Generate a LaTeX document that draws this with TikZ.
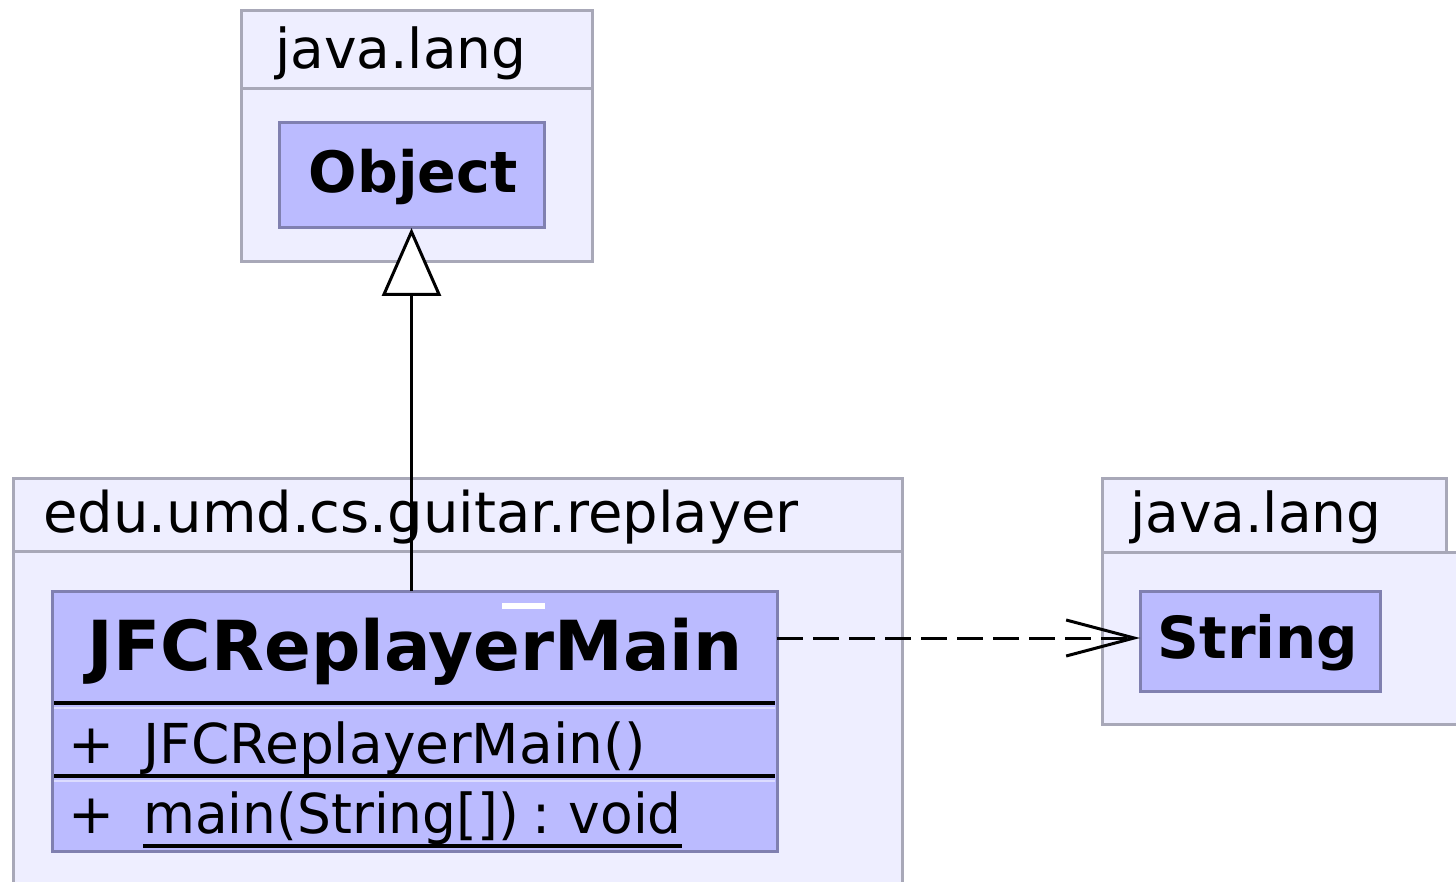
\documentclass[tikz,border=0pt]{standalone}
\usepackage{fontspec}
\setmainfont{DejaVu Sans}
\usetikzlibrary{arrows.meta}
\definecolor{pkgfill}{HTML}{EEEEFF}
\definecolor{pkgline}{HTML}{A8A8B8}
\definecolor{clsfill}{HTML}{BBBBFF}
\definecolor{clsline}{HTML}{8080B0}
\definecolor{clslight}{HTML}{DCDCFF}
\begin{document}
\begin{tikzpicture}[x=1pt,y=-1pt,
  pkg/.style={draw=pkgline, fill=pkgfill, line width=3pt, inner sep=0pt, outer sep=0pt, anchor=north west},
  comp/.style={fill=clsfill, inner sep=0pt, outer sep=0pt, anchor=north west, minimum width=725pt},
  cls/.style={draw=clsline, fill=clsfill, line width=3pt, inner sep=0pt, outer sep=0pt, anchor=north west},
  frame/.style={draw=clsline, line width=3pt},
  divider/.style={draw=black, line width=4pt},
  lightdiv/.style={draw=clslight, line width=2pt},
  lbl/.style={anchor=base west, inner sep=0pt, font=\fontsize{55}{60}\selectfont},
  blbl/.style={anchor=base, inner sep=0pt, font=\fontsize{#1}{#1}\selectfont\bfseries},
  uline/.style={draw=black, line width=4pt},
  gen/.style={draw=black, line width=3.5pt, -{Triangle[fill=white, length=68pt, width=59pt, line width=3pt]}},
  dep/.style={draw=black, line width=3pt, dash pattern=on 26pt off 10pt, -{Straight Barb[length=68pt, width=36pt, line width=3pt]}}
]
\useasboundingbox (0,0) rectangle (1456,882);
% package java.lang (top)
\node[pkg, minimum width=351pt, minimum height=78pt] (tabA) at (241,11) {};
\node[pkg, minimum width=351pt, minimum height=173pt] (bodyA) at (241,89) {};
\node[lbl] (tA) at (275,69) {java.lang};
% package edu.umd.cs.guitar.replayer
\node[pkg, minimum width=889pt, minimum height=73pt] (tabB) at (13,478) {};
\node[pkg, minimum width=889pt, minimum height=380pt] (bodyB) at (13,551) {};
\node[lbl, font=\fontsize{56}{60}\selectfont] (tB) at (43,532) {edu.umd.cs.guitar.replayer};
% package java.lang (right)
\node[pkg, minimum width=344pt, minimum height=74pt] (tabC) at (1102,478) {};
\node[pkg, minimum width=420pt, minimum height=172pt] (bodyC) at (1102,552) {};
\node[lbl] (tC) at (1130,532) {java.lang};
% class Object
\node[cls, minimum width=265pt, minimum height=105pt] (obj) at (279,123) {};
\node[blbl=57] (objT) at (413,193) {Object};
% class String
\node[cls, minimum width=240pt, minimum height=100pt] (str) at (1140,591) {};
\node[blbl=58] (strT) at (1258,658) {String};
% class JFCReplayerMain
\node[comp, minimum height=113pt] (jname) at (52,591) {};
\node[comp, minimum height=73pt] (jattr) at (52,704) {};
\node[comp, minimum height=74pt] (jops) at (52,777) {};
\draw[frame] (jname.north west) rectangle (jops.south east);
\draw[divider] ([xshift=2pt,yshift=1pt]jname.south west) -- ([xshift=-2pt,yshift=1pt]jname.south east);
\draw[lightdiv] ([xshift=2pt,yshift=-4pt]jname.south west) -- ([xshift=-2pt,yshift=-4pt]jname.south east);
\draw[divider] ([xshift=2pt,yshift=1pt]jattr.south west) -- ([xshift=-2pt,yshift=1pt]jattr.south east);
\draw[lightdiv] ([xshift=2pt,yshift=-4pt]jattr.south west) -- ([xshift=-2pt,yshift=-4pt]jattr.south east);
\fill[white] (502,603) rectangle (545,609);
\node[blbl=69] (jT) at (415,670) {JFCReplayerMain};
\node[lbl] (p1) at (68,763) {+};
\node[lbl] (ctor) at (143,763) {JFCReplayerMain()};
\node[lbl] (p2) at (68,833) {+};
\node[lbl] (mainop) at (143,833) {\scalebox{0.97}[1]{main(String[])\hspace{-4pt} :\hspace{-4pt} void}};
\draw[uline] ([yshift=-13pt]mainop.base west) -- ([yshift=-13pt]mainop.base east);
% connectors
\draw[gen] (obj.south |- jname.north) -- (obj.south);
\draw[dep] ([yshift=3pt]str.west -| jname.east) -- ([yshift=3pt]str.west);
\end{tikzpicture}
\end{document}
